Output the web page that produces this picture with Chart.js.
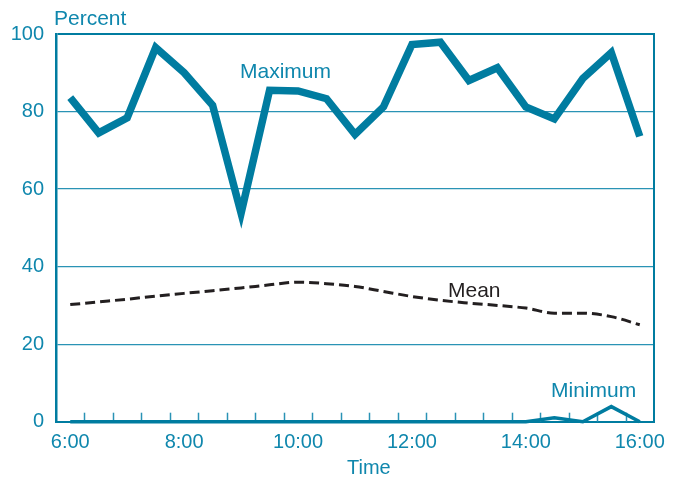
<!DOCTYPE html>
<html>
<head>
<meta charset="utf-8">
<script src="https://cdn.jsdelivr.net/npm/chart.js@4/dist/chart.umd.min.js"></script>
<style>
  html, body { margin: 0; padding: 0; background: #ffffff; }
  #wrap { width: 680px; height: 481px; position: relative; }
</style>
</head>
<body>
<div id="wrap"><canvas id="c" width="680" height="481"></canvas></div>
<script>
// ---- data (hours of day, percent) ----
const times = [6, 6.5, 7, 7.5, 8, 8.5, 9, 9.5, 10, 10.5, 11, 11.5, 12, 12.5, 13, 13.5, 14, 14.5, 15, 15.5, 16];
const maximumValues = [83.6, 74.5, 78.4, 96.5, 90.0, 81.6, 53.8, 85.5, 85.3, 83.3, 74.1, 81.2, 97.3, 97.9, 88.0, 91.3, 81.2, 78.1, 88.5, 95.2, 73.6];
const meanValues = [30.2, 30.9, 31.6, 32.4, 33.1, 33.8, 34.5, 35.3, 36.0, 35.6, 34.9, 33.6, 32.3, 31.3, 30.6, 30.0, 29.3, 28.0, 28.0, 27.1, 25.0];
const minimumValues = [0, 0, 0, 0, 0, 0, 0, 0, 0, 0, 0, 0, 0, 0, 0, 0, 0, 1.0, 0, 3.9, 0];
const xLabelValues = [6, 8, 10, 12, 14, 16];
const minorTickValues = [6.25, 6.75, 7.25, 7.75, 8.25, 8.75, 9.25, 9.75, 10.25, 10.75, 11.25, 11.75, 12.25, 12.75, 13.25, 13.75, 14.25, 14.75, 15.25, 15.75];
const yTickValues = [0, 20, 40, 60, 80, 100];
const seriesNames = ['Maximum', 'Mean', 'Minimum'];

const TEAL = '#007ca0';
const TEXT = '#0f87ad';
const GRID = '#2a93b5';
const FONT = "'Liberation Sans', Arial, Helvetica, sans-serif";

const pts = (vals) => vals.map((v, i) => ({ x: times[i], y: v }));

const overlay = {
  id: 'overlay',
  beforeDatasetsDraw(chart) {
    const { ctx, scales: { x, y } } = chart;
    ctx.save();
    ctx.strokeStyle = GRID;
    ctx.lineWidth = 1.5;
    const y0 = y.getPixelForValue(0);
    minorTickValues.forEach(v => {
      const px = Math.round(x.getPixelForValue(v)) + 0.5;
      ctx.beginPath();
      ctx.moveTo(px, y0);
      ctx.lineTo(px, y0 - 9);
      ctx.stroke();
    });
    ctx.restore();
  },
  afterDraw(chart) {
    const { ctx } = chart;
    ctx.save();
    ctx.textBaseline = 'alphabetic';
    ctx.textAlign = 'left';
    ctx.font = '21px ' + FONT;
    ctx.fillStyle = TEXT;
    ctx.fillText('Percent', 54, 25);
    ctx.fillText(seriesNames[0], 240, 78);
    ctx.fillText(seriesNames[2], 551, 397);
    ctx.font = '20px ' + FONT;
    ctx.fillText('Time', 347, 474);
    ctx.font = '21px ' + FONT;
    ctx.fillStyle = '#231f20';
    ctx.fillText(seriesNames[1], 448, 297);
    ctx.restore();
  }
};

new Chart(document.getElementById('c'), {
  type: 'line',
  data: {
    datasets: [
      { label: seriesNames[0], data: pts(maximumValues), borderColor: TEAL, borderWidth: 7.5, borderJoinStyle: 'miter', tension: 0, pointRadius: 0, clip: false },
      { label: seriesNames[1], data: pts(meanValues), borderColor: '#231f20', borderWidth: 3, borderDash: [10, 5], tension: 0.4, cubicInterpolationMode: 'monotone', pointRadius: 0, clip: false },
      { label: seriesNames[2], data: pts(minimumValues), borderColor: TEAL, borderWidth: 3.5, tension: 0, pointRadius: 0, clip: false }
    ]
  },
  options: {
    responsive: false,
    animation: false,
    devicePixelRatio: 1,
    layout: { padding: { left: 0, right: 26, top: 34, bottom: 0 } },
    plugins: { legend: { display: false }, tooltip: { enabled: false } },
    scales: {
      x: {
        type: 'linear',
        min: 5.75,
        max: 16.25,
        afterFit(s) { s.height = 59.3; },
        afterBuildTicks(s) { s.ticks = xLabelValues.map(v => ({ value: v })); },
        grid: { display: false, drawTicks: false },
        border: { display: true, color: TEAL, width: 2 },
        ticks: { color: TEXT, font: { family: FONT, size: 20 }, padding: 9, maxRotation: 0, autoSkip: false, callback: v => v + ':00' }
      },
      y: {
        min: 0,
        max: 100,
        afterFit(s) { s.width = 56; },
        afterBuildTicks(s) { s.ticks = yTickValues.map(v => ({ value: v })); },
        grid: {
          drawTicks: false,
          color: c => (c.tick && c.tick.value === 0) ? 'rgba(0,0,0,0)' : (c.tick && c.tick.value === 100 ? TEAL : GRID),
          lineWidth: c => (c.tick && c.tick.value === 100) ? 2 : 1.2
        },
        border: { display: true, color: TEAL, width: 2.5 },
        ticks: { color: TEXT, font: { family: FONT, size: 20 }, padding: 12 }
      },
      y2: {
        position: 'right',
        min: 0,
        max: 100,
        afterFit(s) { s.width = 0; },
        grid: { drawOnChartArea: false, drawTicks: false },
        border: { display: true, color: TEAL, width: 2 },
        ticks: { display: false }
      }
    }
  },
  plugins: [overlay]
});
</script>
</body>
</html>
